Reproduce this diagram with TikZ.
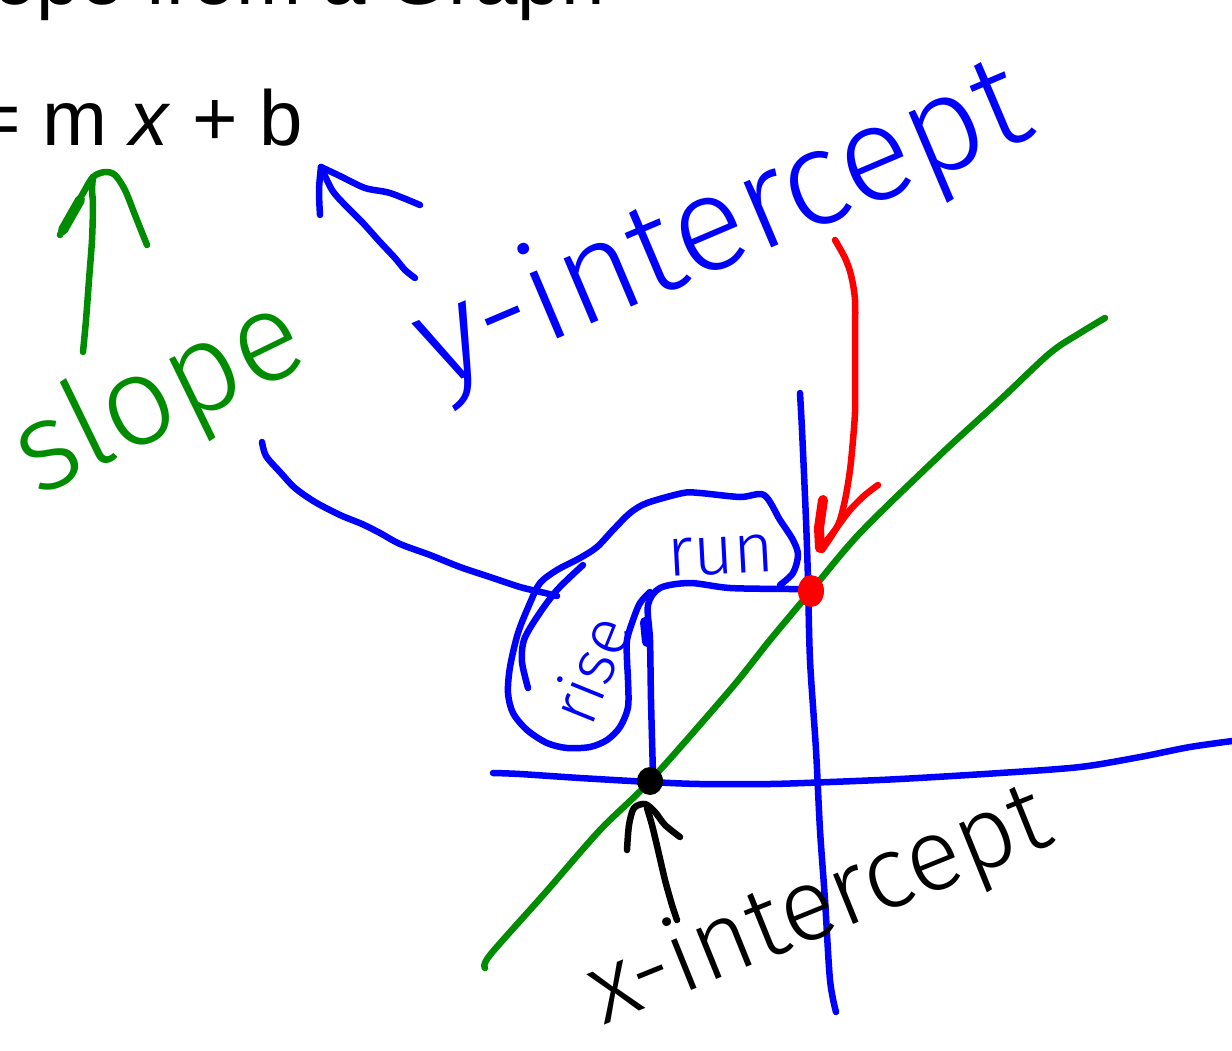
\documentclass[tikz,border=0pt]{standalone}
\usepackage{fontspec}
\setmainfont{Liberation Sans}
\newfontfamily\handfont{Fira Sans}[UprightFont=* Light]
\definecolor{pgreen}{RGB}{0,140,0}
\definecolor{pblue}{RGB}{0,0,255}
\definecolor{pred}{RGB}{255,0,0}
\begin{document}
\begin{tikzpicture}[x=1pt,y=-1pt,
  pen/.style={line width=6.5pt,line cap=round,line join=round},
  thickpen/.style={line width=10pt,line cap=round,line join=round},
  hand/.style={inner sep=0pt,outer sep=0pt,anchor=base},
  printed/.style={inner sep=0pt,outer sep=0pt,anchor=base west,font=\fontsize{78}{94}\selectfont}]
\useasboundingbox (0,0) rectangle (1232,1050);
\fill[white] (0,0) rectangle (1232,1050);
\clip (0,0) rectangle (1232,1050);

% printed heading and equation
\node[printed] (title) at (-76,4) {Slope from a Graph};
\node[printed] (eq) at (-85,145) {y = m \textit{x} + b};

% key points
\coordinate (xi) at (650,781);
\coordinate (yi) at (811,591);
\coordinate (mtip) at (93,177);
\coordinate (btip) at (321,167);

% axes (blue)
\draw[pen,pblue] plot[smooth,tension=0.5] coordinates {(493,773) (520,774) (580,778) (650,782) (700,784) (770,784) (830,782) (900,779) (1000,773) (1080,767) (1140,757) (1190,747) (1240,740)};
\draw[pen,pblue] plot[smooth,tension=0.5] coordinates {(800,393) (802,430) (806,520) (808,580) (810,660) (816,750) (820,830) (825,900) (830,980) (836,1012)};

% the line (green)
\draw[pen,pgreen] plot[smooth,tension=0.5] coordinates {(485,968) (490,955) (545,893) (600,830) (xi) (730,690) (770,640) (yi) (860,533) (940,455) (1000,400) (1050,353) (1080,333) (1105,318)};

% rise / run legs
\draw[pen,pblue] plot[smooth,tension=0.5] coordinates {(653,775) (651,700) (650,640) (648,605) (660,588) (690,583) (730,588) (790,589) (806,589)};
\draw[thickpen,pblue] (645,622) -- (647,642);

% loop around rise and run
\draw[pen,pblue] plot[smooth,tension=0.5] coordinates {(780,585) (793,573) (798,555) (793,540) (780,520) (764,495) (740,497) (700,493) (683,493) (647,503) (630,513) (613,530) (597,547) (580,558) (557,570) (540,583) (530,603) (518,633) (510,667) (508,693) (513,713) (527,730) (547,743) (567,748) (590,747) (607,740) (620,727) (628,707) (628,680) (627,660) (627,640) (633,620) (640,603) (650,592)};
\draw[pen,pblue] plot[smooth,tension=0.5] coordinates {(583,565) (557,590) (537,617) (524,640) (522,662) (528,688)};

% slope connector
\draw[pen,pblue] plot[smooth,tension=0.5] coordinates {(262,442) (266,456) (280,472) (295,488) (315,502) (340,515) (362,524) (380,533) (400,544) (430,555) (460,567) (490,577) (520,587) (545,593) (557,596)};

% green arrow slope -> m
\draw[pen,pgreen] plot[smooth,tension=0.5] coordinates {(83,352) (86,320) (89,280) (92,240) (93,205) (92,190) (mtip)};
\draw[pen,pgreen] plot[smooth,tension=0.5] coordinates {(60,235) (70,215) (82,195) (mtip) (105,172) (115,175) (125,190) (135,215) (147,245)};
\draw[thickpen,pgreen] (63,230) -- (80,200);

% blue arrow y-intercept -> b
\draw[pen,pblue] plot[smooth,tension=0.5] coordinates {(415,278) (405,270) (395,258) (380,242) (362,222) (345,205) (332,190) (btip)};
\draw[pen,pblue] plot[smooth,tension=0.5] coordinates {(320,215) (319,190) (btip)};
\draw[pen,pblue] plot[smooth,tension=0.5] coordinates {(btip) (340,176) (365,188) (390,193) (420,205)};

% red arrow to y-intercept
\draw[pen,pred] plot[smooth,tension=0.5] coordinates {(835,240) (845,258) (851,275) (855,300) (855,340) (855,380) (855,412) (853,440) (850,470) (845,500) (838,525) (822,550)};
\draw[thickpen,pred] (820,548) -- (819,528) -- (823,500);
\draw[pen,pred] plot[smooth,tension=0.5] coordinates {(821,548) (835,530) (850,510) (865,495) (878,485)};

% black arrow to x-intercept
\draw[pen,black] plot[smooth,tension=0.5] coordinates {(677,920) (672,905) (665,880) (658,850) (652,825) (647,808)};
\draw[pen,black] plot[smooth,tension=0.5] coordinates {(627,850) (629,825) (634,808) (645,804) (655,812) (665,825) (680,837)};

% dots
\fill[pred] (yi) ellipse [x radius=13, y radius=16];
\fill[black] (xi) ellipse [x radius=13, y radius=14];

% handwritten labels
\node[hand,pgreen,rotate=26,font=\handfont\fontsize{126}{150}\selectfont] (slope) at (175,430) {slope};
\node[hand,pblue,rotate=23,font=\handfont\fontsize{135}{162}\selectfont] (yint) at (738,262) {y-intercept};
\node[hand,black,rotate=22,font=\handfont\fontsize{102}{122}\selectfont] (xint) at (830,934) {x-intercept};
\node[hand,pblue,rotate=68,font=\handfont\fontsize{66}{80}\selectfont] (rise) at (612,678) {rise};
\node[hand,pblue,rotate=3,font=\handfont\fontsize{70}{84}\selectfont] (run) at (722,574) {run};
\end{tikzpicture}
\end{document}
